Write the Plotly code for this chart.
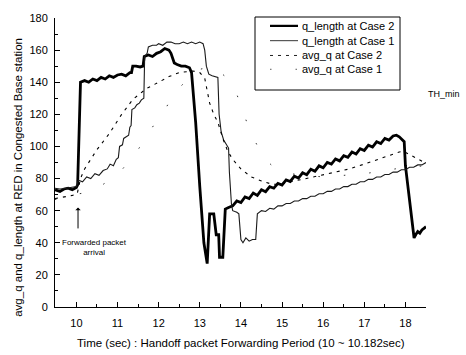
import plotly.graph_objects as go

# ---- queue length, Case 2 (thick) ----
t_q2 = [9.48, 9.6, 9.7, 9.8, 9.9, 10.0, 10.03, 10.1, 10.2, 10.3, 10.4, 10.5, 10.6, 10.7, 10.8,
        10.9, 11.0, 11.1, 11.2, 11.3, 11.34, 11.37, 11.45, 11.55, 11.62, 11.65, 11.75, 11.85,
        11.95, 12.05, 12.15, 12.25, 12.3, 12.38, 12.45, 12.55, 12.65, 12.75, 12.8, 12.9, 13.0,
        13.1, 13.18, 13.24, 13.34, 13.4, 13.46, 13.48, 13.56, 13.58, 13.62, 13.7, 13.8,
        13.9, 14.0, 14.1, 14.2, 14.3, 14.4, 14.5, 14.6, 14.7, 14.8, 14.9, 15.0,
        15.1, 15.2, 15.3, 15.4, 15.5, 15.6, 15.7, 15.8, 15.9, 16.0,
        16.1, 16.2, 16.3, 16.4, 16.5, 16.6, 16.7, 16.8, 16.9, 17.0,
        17.1, 17.2, 17.3, 17.4, 17.5, 17.6, 17.7, 17.78, 17.85, 17.97,
        18.0, 18.13, 18.21, 18.25, 18.3, 18.35, 18.4, 18.45, 18.5]
v_q2 = [73, 72, 73.5, 74, 73, 74.5, 76, 140, 141, 140, 142, 141, 143, 142, 144,
        143, 144.5, 145, 144, 146, 146, 150, 150, 149.5, 150, 156, 157, 156,
        158, 159, 161, 160, 158, 152, 151, 150, 150, 149, 146, 115, 75,
        40, 27, 58, 58, 45, 45, 31, 31, 45, 61, 62, 63,
        66, 65, 68.5, 67.5, 71, 69.5, 73, 71.8, 75, 74, 77, 76,
        79.2, 78.2, 81.5, 80.3, 83.6, 82.4, 85.8, 84.5, 87.9, 86.7,
        90, 89, 92.2, 91, 94.3, 93.2, 96.5, 95.3, 98.6, 97.5,
        100.8, 99.6, 102.9, 101.8, 105, 104, 106.5, 107, 106, 103,
        88, 60, 43, 45, 47, 46, 48, 49, 50]

# ---- queue length, Case 1 (thin) ----
t_q1 = [9.48, 9.6, 9.75, 9.9, 10.0, 10.05, 10.15, 10.25, 10.35, 10.45, 10.55, 10.65, 10.75,
        10.82, 10.9, 10.97, 11.02, 11.05, 11.12, 11.15, 11.22, 11.27, 11.3, 11.33, 11.35,
        11.42, 11.47, 11.53, 11.58, 11.64, 11.66, 11.72, 11.75, 11.85, 11.95, 12.0, 12.1,
        12.2, 12.3, 12.4, 12.5, 12.6, 12.7, 12.8, 12.9, 13.0, 13.08, 13.12, 13.16, 13.22,
        13.3, 13.44, 13.47, 13.52, 13.58, 13.65, 13.7, 13.72, 13.77, 13.8, 13.9, 13.95,
        14.0, 14.05, 14.12, 14.2, 14.28, 14.36, 14.4, 14.5, 14.6, 14.7, 14.8, 14.9, 15.0,
        15.1, 15.2, 15.3, 15.4, 15.5, 15.6, 15.7, 15.8, 15.9, 16.0, 16.1, 16.2, 16.3, 16.4,
        16.5, 16.6, 16.7, 16.8, 16.9, 17.0, 17.1, 17.2, 17.3, 17.4, 17.5, 17.6, 17.7, 17.8,
        17.9, 18.0, 18.1, 18.2, 18.3, 18.4, 18.5]
v_q1 = [74, 73.5, 74, 74.5, 75, 79, 78, 81, 80, 83, 82, 85, 86,
        89, 88, 92, 93, 100, 101, 105, 106, 107, 112, 113, 123,
        124, 126, 127, 129, 130, 156, 158, 162, 163, 163, 164, 163,
        165, 165, 164, 164, 165, 164, 165, 164, 165, 164, 160, 150, 145,
        144, 143, 120, 109, 104, 101, 99, 84, 64, 60, 59, 58,
        42, 40, 43, 41, 42, 42, 58, 60, 59.5, 61.5, 61, 63, 63,
        64.5, 64.5, 66, 66, 67.5, 67.5, 69, 69, 70.5, 70.5, 72, 72, 73.5, 73.5,
        75, 75, 76.5, 76.5, 78, 78, 79.5, 79.5, 81, 81, 82.5, 82.5, 84, 84,
        85.5, 85.5, 87, 87, 88.5, 88.5, 90]

# ---- average queue, Case 2 ----
t_a2 = [9.48, 9.7, 9.9, 10.02, 10.1, 10.2, 10.3, 10.5, 10.8, 11.1, 11.38, 11.7, 12.0, 12.25,
        12.5, 12.83, 13.0, 13.12, 13.24, 13.34, 13.44, 13.56, 13.68, 13.8, 14.0, 14.25, 14.5,
        14.75, 15.0, 15.1, 15.5, 16.0, 16.64, 17.0, 17.5, 17.85, 17.95, 18.1, 18.3, 18.5]
v_a2 = [67.5, 68.5, 69.5, 70.5, 80, 86, 90, 98, 108, 120, 129.5, 136, 140, 143.5,
        146, 147, 146, 142.5, 127, 120, 115, 105, 97, 92, 86, 81, 78.5,
        76.5, 76.5, 77.5, 79.5, 82.5, 86, 89, 93.5, 96.5, 97, 95, 92, 89.5]

# ---- average queue, Case 1 ----
t_a1 = [9.48, 9.7, 9.9, 10.05, 10.2, 10.5, 11.0, 11.5, 12.0, 12.2, 12.35, 12.7, 13.0, 13.3,
        13.6, 13.9, 14.2, 14.53, 14.8, 15.2, 16.0, 17.0, 18.0, 18.5]
v_a1 = [67, 68, 69.5, 70.5, 71, 74, 82, 98, 118, 125, 132, 142, 148, 150,
        144, 132.5, 111, 93.5, 87, 83, 81, 83, 87, 88]

series_names = ["q_length at Case 2", "q_length at Case 1", "avg_q at Case 2", "avg_q at Case 1"]
x_ticks = [10, 11, 12, 13, 14, 15, 16, 17, 18]
y_ticks = [0, 20, 40, 60, 80, 100, 120, 140, 160, 180]

FONT = "Liberation Sans, Arial, sans-serif"
styles = [
    dict(color="#000000", width=2.8, dash="solid"),
    dict(color="#1a1a1a", width=1.1, dash="solid"),
    dict(color="#000000", width=1.1, dash="3px,5px"),
    dict(color="#333333", width=1.0, dash="1.5px,24px"),
]

fig = go.Figure()
for (tx, vy), name, st in zip([(t_q2, v_q2), (t_q1, v_q1), (t_a2, v_a2), (t_a1, v_a1)],
                              series_names, styles):
    fig.add_trace(go.Scatter(x=tx, y=vy, mode="lines", name=name, line=st,
                             showlegend=False))

# map pixel positions in the plot frame to paper coordinates
L, R, T, B = 55, 426, 14, 307
def px(x):
    return (x - L) / (R - L)
def py(y):
    return (B - y) / (B - T)

# hand-drawn legend box
shapes = [dict(type="rect", xref="paper", yref="paper", x0=px(255), x1=px(400),
               y0=py(87), y1=py(13), line=dict(color="#000", width=1), fillcolor="white",
               layer="above")]
annotations = []
rows = [22, 37, 52, 66]
for row, name, st in zip(rows, series_names, styles):
    shapes.append(dict(type="line", xref="paper", yref="paper", x0=px(270), x1=px(298),
                       y0=py(row), y1=py(row),
                       line=dict(color=st["color"], width=st["width"] * 0.8, dash=st["dash"]),
                       layer="above"))
    annotations.append(dict(xref="paper", yref="paper", x=px(300), y=py(row), text=name,
                            showarrow=False, xanchor="left", yanchor="middle",
                            font=dict(family=FONT, size=11, color="#000")))

# threshold label outside the frame
annotations.append(dict(xref="paper", yref="paper", x=px(444), y=py(91), text="TH_min",
                        showarrow=False, xanchor="center", yanchor="middle",
                        font=dict(family=FONT, size=9, color="#000")))

# forwarded packet arrival marker
annotations.append(dict(x=10.04, y=62, ax=10.04, ay=48, xref="x", yref="y", axref="x",
                        ayref="y", text="", showarrow=True, arrowhead=1, arrowsize=0.9,
                        arrowwidth=1, arrowcolor="#000"))
annotations.append(dict(x=10.45, y=37, xref="x", yref="y",
                        text="Forwarded packet<br>arrival", showarrow=False,
                        xanchor="center", yanchor="middle", align="center",
                        font=dict(family=FONT, size=8, color="#000")))

# axis titles
annotations.append(dict(xref="paper", yref="paper", x=px(18), y=py(176),
                        text="avg_q and q_length at RED in Congested Base station",
                        textangle=-90, showarrow=False, xanchor="center", yanchor="middle",
                        font=dict(family=FONT, size=11.5, color="#000")))
annotations.append(dict(xref="paper", yref="paper", x=px(241), y=py(343),
                        text="Time (sec) : Handoff packet Forwarding Period (10 ~ 10.182sec)",
                        showarrow=False, xanchor="center", yanchor="middle",
                        font=dict(family=FONT, size=11.5, color="#000")))

fig.update_layout(
    width=466, height=355,
    margin=dict(l=L, r=466 - R, t=T, b=355 - B),
    paper_bgcolor="white", plot_bgcolor="white",
    shapes=shapes, annotations=annotations,
    font=dict(family=FONT, size=11, color="#000"),
    showlegend=False,
)
fig.update_xaxes(range=[9.48, 18.5], tickvals=x_ticks, ticks="inside", ticklen=5,
                 tickcolor="#000", showline=True, linecolor="#000", linewidth=1,
                 showgrid=False, zeroline=False, ticklabelstandoff=6,
                 tickfont=dict(family=FONT, size=11, color="#000"),
                 minor=dict(dtick=0.5, tick0=9.5, ticks="inside", ticklen=3, tickcolor="#000",
                            showgrid=False))
fig.update_yaxes(range=[0, 180], tickvals=y_ticks, ticks="inside", ticklen=5,
                 tickcolor="#000", showline=True, linecolor="#000", linewidth=1,
                 showgrid=False, zeroline=False, ticklabelstandoff=4,
                 tickfont=dict(family=FONT, size=11, color="#000"),
                 minor=dict(dtick=10, tick0=0, ticks="inside", ticklen=3, tickcolor="#000",
                            showgrid=False))

fig.write_html("out.html")
